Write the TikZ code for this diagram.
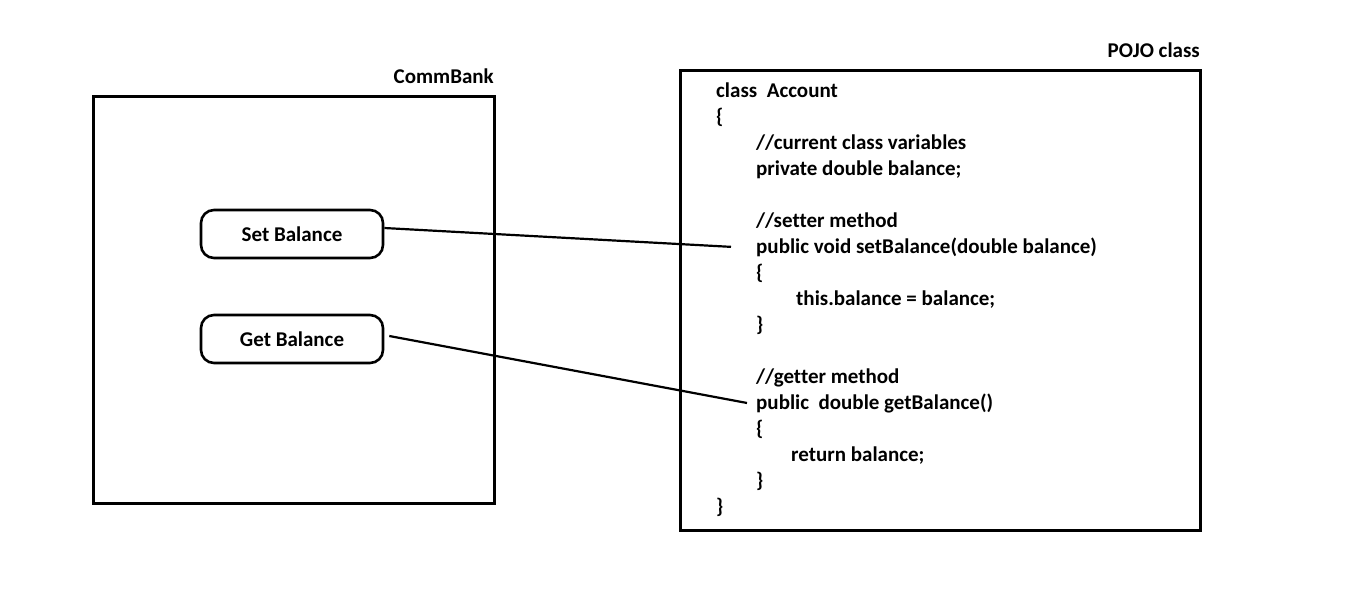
\documentclass[tikz,border=0pt]{standalone}
\usepackage{fontspec}
\setmainfont{Carlito}[Ligatures=NoCommon]
\begin{document}
\begin{tikzpicture}[x=1pt,y=-1pt,
  txt/.style={font=\fontsize{21}{25}\selectfont\bfseries, inner sep=0pt, anchor=base west},
  lbl/.style={font=\fontsize{21}{25}\selectfont\bfseries, inner sep=0pt, anchor=base east},
  box/.style={draw, line width=3pt},
  pill/.style={draw, line width=2.6pt, rounded corners=13pt, minimum width=182pt, minimum height=48pt, inner sep=0pt, font=\fontsize{21}{25}\selectfont\bfseries},
  conn/.style={line width=2.2pt}]
\useasboundingbox (0,0) rectangle (1360,613);
% boxes
\draw[box] (93,96) rectangle (494,503);
\draw[box] (680,70) rectangle (1200,530);
\node[lbl] (cb) at (494,83) {CommBank};
\node[lbl] (pojo) at (1200,57) {POJO class};
% pills
\node[pill] (set) at (292,234) {Set Balance};
\node[pill] (get) at (292,339) {Get Balance};
% code lines
\node[txt] (l1) at (716,97) {class\ \ Account};
\node[txt] (l2) at (716,123) {\{};
\node[txt] (l3) at (756,149) {//current class variables};
\node[txt] (l4) at (756,175) {private double balance;};
\node[txt] (l6) at (756,227) {//setter method};
\node[txt] (l7) at (756,253) {public void setBalance(double balance)};
\node[txt] (l8) at (756,279) {\{};
\node[txt] (l9) at (796,305) {this.balance = balance;};
\node[txt] (l10) at (756,331) {\}};
\node[txt] (l12) at (756,383) {//getter method};
\node[txt] (l13) at (756,409) {public\ \ double getBalance()};
\node[txt] (l14) at (756,435) {\{};
\node[txt] (l15) at (791,461) {return balance;};
\node[txt] (l16) at (756,487) {\}};
\node[txt] (l17) at (716,513) {\}};
% connectors
\coordinate (s1) at ([xshift=-25pt]l7.west);
\coordinate (g1) at ([xshift=-9pt]l13.west);
\draw[conn] ([yshift=6pt]set.east) -- (s1);
\draw[conn] ([xshift=5pt,yshift=3pt]get.east) -- (g1);
\end{tikzpicture}
\end{document}
